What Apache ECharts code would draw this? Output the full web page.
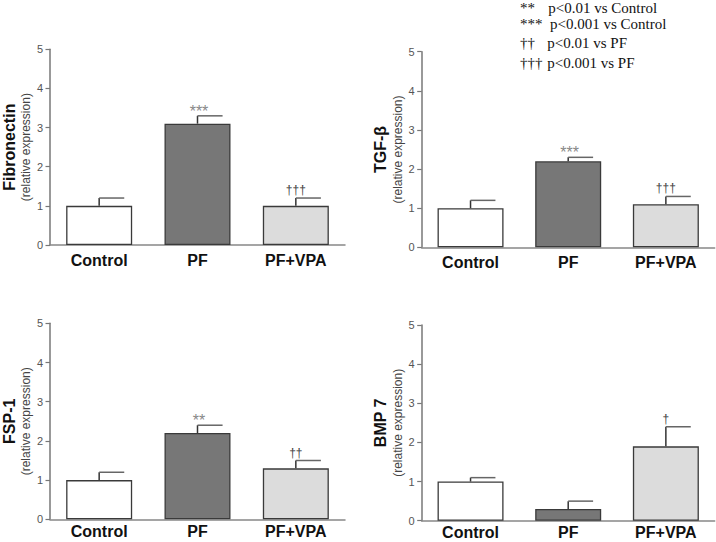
<!DOCTYPE html>
<html><head><meta charset="utf-8">
<script src="https://cdn.jsdelivr.net/npm/echarts@6/dist/echarts.min.js"></script>
<style>html,body{margin:0;padding:0;background:#fff}#c{width:716px;height:542px}</style>
</head><body><div id="c"></div>
<script>
// ---- data ----
const categories = ['Control', 'PF', 'PF+VPA'];
const yTicks = [0, 1, 2, 3, 4, 5];
const panelTitles = ['Fibronectin', 'TGF-β', 'FSP-1', 'BMP 7'];
const subtitle = '(relative expression)';

const fibronectinMean = [1.0, 3.1, 1.0];
const fibronectinErr  = [0.2, 0.2, 0.2];
const fibronectinSig  = ['', '***', '†††'];

const tgfMean = [1.0, 2.2, 1.1];
const tgfErr  = [0.2, 0.1, 0.2];
const tgfSig  = ['', '***', '†††'];

const fspMean = [1.0, 2.2, 1.3];
const fspErr  = [0.2, 0.2, 0.2];
const fspSig  = ['', '**', '††'];

const bmpMean = [1.0, 0.3, 1.9];
const bmpErr  = [0.1, 0.2, 0.5];
const bmpSig  = ['', '', '†'];

const legendSymbols = ['**', '***', '††', '†††'];
const legendTexts = ['p<0.01 vs Control', 'p<0.001 vs Control', 'p<0.01 vs PF', 'p<0.001 vs PF'];

// ---- styling / layout ----
const barColors = ['#ffffff', '#777777', '#dcdcdc'];
const sans = "Arial, 'Liberation Sans', Helvetica, sans-serif";
const serif = "'Times New Roman', 'Liberation Serif', serif";
const grids = [
  { left: 50, top: 49.3, width: 295, height: 195.7 },
  { left: 421.7, top: 51.7, width: 293, height: 195.6 },
  { left: 50, top: 323.3, width: 295, height: 196 },
  { left: 421.7, top: 325, width: 293, height: 195.7 }
];
const labelMargins = [7, 7, 4, 4];
const panels = [
  [fibronectinMean, fibronectinErr, fibronectinSig],
  [tgfMean, tgfErr, tgfSig],
  [fspMean, fspErr, fspSig],
  [bmpMean, bmpErr, bmpSig]
];

const chart = echarts.init(document.getElementById('c'), null, { renderer: 'svg' });

const xAxis = [], yAxis = [], series = [];
panels.forEach(function (p, g) {
  const means = p[0], errs = p[1], sigs = p[2];
  xAxis.push({
    type: 'category', gridIndex: g, data: categories,
    axisLine: { lineStyle: { color: '#888', width: 1.5 } },
    axisTick: { show: false },
    axisLabel: { fontSize: 16, lineHeight: 16, fontWeight: 'bold', color: '#111', fontFamily: sans, margin: labelMargins[g] }
  });
  yAxis.push({
    type: 'value', gridIndex: g, position: 'left', offset: 0,
    min: yTicks[0], max: yTicks[yTicks.length - 1],
    interval: yTicks[1] - yTicks[0],
    name: subtitle, nameLocation: 'middle', nameGap: 18,
    nameTextStyle: { fontSize: 12, color: '#444', fontFamily: sans },
    axisLine: { show: true, lineStyle: { color: '#777', width: 1.5 } },
    axisTick: { show: true, length: 4.5, lineStyle: { color: '#777', width: 1.2 } },
    axisLabel: { fontSize: 11, color: '#555', fontFamily: sans, margin: 7 },
    splitLine: { show: false }
  });
  yAxis.push({
    type: 'value', gridIndex: g, position: 'left', offset: 0,
    min: yTicks[0], max: yTicks[yTicks.length - 1],
    name: panelTitles[g], nameLocation: 'middle', nameGap: 33,
    nameTextStyle: { fontSize: 16, fontWeight: 'bold', color: '#111', fontFamily: sans },
    axisLine: { show: false }, axisTick: { show: false }, axisLabel: { show: false },
    splitLine: { show: false }
  });
  series.push({
    type: 'bar', xAxisIndex: g, yAxisIndex: 2 * g, barWidth: 66,
    data: means.map(function (v, i) {
      return { value: v, itemStyle: { color: barColors[i] } };
    }),
    itemStyle: { borderColor: '#3a3a3a', borderWidth: 1.3 },
    silent: true, z: 2
  });
  series.push({
    type: 'custom', xAxisIndex: g, yAxisIndex: 2 * g, z: 3, silent: true,
    data: means.map(function (v, i) { return [i, v, errs[i]]; }),
    renderItem: function (params, api) {
      const i = api.value(0), m = api.value(1), e = api.value(2);
      const pb = api.coord([i, m]);
      const pt = api.coord([i, m + e]);
      const band = api.size([1, 0])[0];
      const capLen = band * 0.255;
      const children = [
        { type: 'line', shape: { x1: pb[0], y1: pb[1], x2: pt[0], y2: pt[1] },
          style: { stroke: '#333', lineWidth: 1.5 } },
        { type: 'line', shape: { x1: pt[0], y1: pt[1], x2: pt[0] + capLen, y2: pt[1] },
          style: { stroke: '#666', lineWidth: 1.5 } }
      ];
      const s = sigs[params.dataIndex];
      if (s) {
        const isStar = s.indexOf('*') >= 0;
        children.push({
          type: 'text',
          style: {
            text: s, x: pt[0] + (isStar ? 1.5 : 0), y: pt[1] - (isStar ? 4.6 : 8),
            align: 'center', verticalAlign: 'middle',
            fontSize: isStar ? 16 : 12, fontFamily: sans,
            fill: isStar ? '#888' : '#444'
          }
        });
      }
      return { type: 'group', children: children };
    }
  });
});

const legendRowTop = [0, 16.5, 35.5, 55.5];
const legendTextX = [548.3, 550, 547.3, 547.3];
const graphic = [];
legendSymbols.forEach(function (s, k) {
  graphic.push({ type: 'text', left: 520, top: legendRowTop[k],
    style: { text: s, fontSize: 15, fontFamily: serif, fill: '#111' } });
  graphic.push({ type: 'text', left: legendTextX[k], top: legendRowTop[k],
    style: { text: legendTexts[k], fontSize: 15, fontFamily: serif, fill: '#111' } });
});

chart.setOption({
  animation: false,
  backgroundColor: '#ffffff',
  grid: grids.map(function (g) { return Object.assign({ containLabel: false, outerBoundsMode: 'none' }, g); }),
  xAxis: xAxis,
  yAxis: yAxis,
  series: series,
  graphic: graphic
});
</script></body></html>
